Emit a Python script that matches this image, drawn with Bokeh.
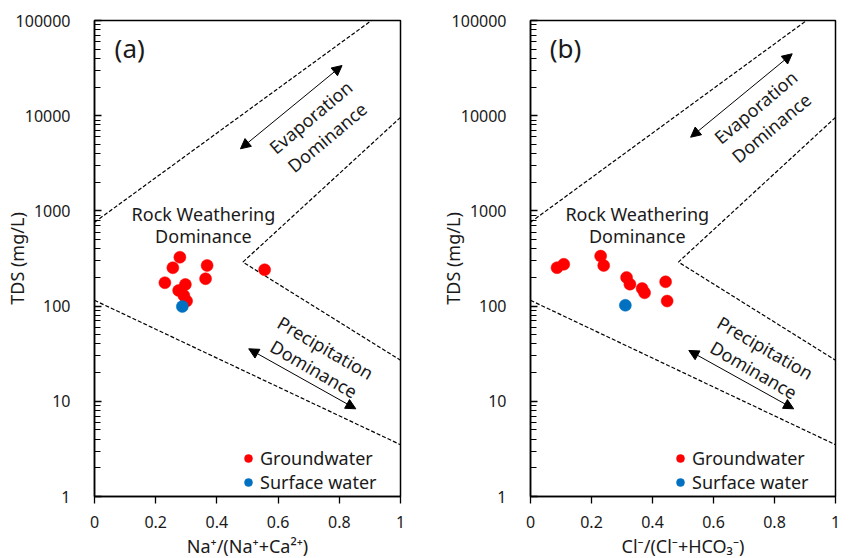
from bokeh.plotting import figure
from bokeh.models import (Range1d, FixedTicker, CustomJSTickFormatter, Label, Arrow,
                          NormalHead, Legend, LegendItem)
from bokeh.layouts import row
from bokeh.embed import file_html
from bokeh.resources import INLINE

FONT = "Noto Sans"
TXT = "#1a1a1a"

# ---------------- data ----------------
# panel (a): Na+/(Na+ + Ca2+) vs TDS
gw_na_ratio = [0.230, 0.256, 0.279, 0.368, 0.363, 0.297, 0.275, 0.292, 0.301, 0.556]
gw_tds_a = [176, 253, 326, 267, 194, 169, 146, 129, 113, 241]
sw_na_ratio = [0.287]
sw_tds_a = [99]

# panel (b): Cl-/(Cl- + HCO3-) vs TDS
gw_cl_ratio = [0.087, 0.109, 0.230, 0.240, 0.315, 0.326, 0.366, 0.374, 0.443, 0.448]
gw_tds_b = [253, 275, 335, 267, 200, 170, 153, 138, 180, 113]
sw_cl_ratio = [0.311]
sw_tds_b = [102]

# Gibbs boundary lines
upper_x = [0.0, 0.905]
upper_y = [760, 100000]
chevron_x = [1.0, 0.485, 1.0]
chevron_y = [9600, 290, 27]
lower_x = [0.0, 1.0]
lower_y = [115, 3.5]

x_ticks = [0, 0.2, 0.4, 0.6, 0.8, 1]
y_ticks = [1, 10, 100, 1000, 10000, 100000]
y_minor = [m * 10 ** k for k in range(0, 5) for m in range(2, 10)]

GW_COLOR = "#FF0000"
SW_COLOR = "#0070C0"


def make_panel(tag, xlabel, gx, gy, sx, sy, border_left, border_right, frame_w,
               evap, precip, evap_txt, precip_txt, rock_x, legend_x):
    p = figure(x_range=Range1d(0, 1), y_range=Range1d(1, 100000), y_axis_type="log",
               frame_width=frame_w, frame_height=476,
               min_border_left=border_left, min_border_right=border_right,
               min_border_top=20, min_border_bottom=61,
               output_backend="svg", toolbar_location=None,
               background_fill_color="white", border_fill_color="white")
    p.grid.visible = False
    p.outline_line_color = "black"
    p.outline_line_width = 1.5
    p.outline_line_alpha = 1.0

    # x axis
    p.xaxis.ticker = FixedTicker(ticks=x_ticks)
    p.xaxis.formatter = CustomJSTickFormatter(code="return String(Math.round(tick*10)/10);")
    p.xaxis.major_tick_out = 7
    p.xaxis.major_tick_in = 0
    p.xaxis.minor_tick_out = 0
    p.xaxis.minor_tick_in = 0
    p.xaxis.major_label_standoff = 12
    p.xaxis.axis_label = xlabel
    p.xaxis.axis_label_standoff = 3
    # y axis
    p.yaxis.ticker = FixedTicker(ticks=y_ticks, minor_ticks=y_minor)
    p.yaxis.formatter = CustomJSTickFormatter(code="return String(Math.round(tick));")
    p.yaxis.major_tick_in = 7
    p.yaxis.major_tick_out = 0
    p.yaxis.minor_tick_in = 6
    p.yaxis.minor_tick_out = 0
    p.yaxis.major_label_standoff = 24
    p.yaxis.axis_label = "TDS (mg/L)"
    p.yaxis.axis_label_standoff = -16
    for ax in (p.xaxis, p.yaxis):
        ax.axis_line_color = "black"
        ax.axis_line_width = 1.5
        ax.major_tick_line_color = "black"
        ax.major_tick_line_width = 1.3
        ax.minor_tick_line_color = "black"
        ax.minor_tick_line_width = 1.0
        ax.major_label_text_font = FONT
        ax.major_label_text_font_size = "16px"
        ax.major_label_text_color = TXT
        ax.axis_label_text_font = FONT
        ax.axis_label_text_font_size = "18px"
        ax.axis_label_text_font_style = "normal"
        ax.axis_label_text_color = TXT

    # boundary lines
    for xs, ys in ((upper_x, upper_y), (chevron_x, chevron_y), (lower_x, lower_y)):
        p.line(xs, ys, line_color="black", line_width=1.2, line_dash="4 2")

    # arrows
    for (x0, y0, x1, y1) in (evap, precip):
        p.add_layout(Arrow(x_start=x0, y_start=y0, x_end=x1, y_end=y1,
                           line_color="black", line_width=1,
                           start=NormalHead(size=10, fill_color="black", line_color="black"),
                           end=NormalHead(size=10, fill_color="black", line_color="black")))

    # points
    r_gw = p.scatter(gx, gy, size=12, fill_color=GW_COLOR, line_color=GW_COLOR, line_width=0.5)
    r_sw = p.scatter(sx, sy, size=12, fill_color=SW_COLOR, line_color=SW_COLOR, line_width=0.5)

    def lab(text, x, y, size="18px", angle=0):
        p.add_layout(Label(x=x, y=y, text=text, text_font=FONT, text_font_size=size,
                           text_color=TXT, text_align="center", text_baseline="middle",
                           angle=angle, angle_units="deg"))

    lab(tag, 0.115, 52000, size="26px")
    lab("Rock Weathering", rock_x, 917)
    lab("Dominance", rock_x, 539)
    (e1x, e1y), (e2x, e2y) = evap_txt
    lab("Evaporation", e1x, e1y, angle=40)
    lab("Dominance", e2x, e2y, angle=40)
    (p1x, p1y), (p2x, p2y) = precip_txt
    lab("Precipitation", p1x, p1y, angle=-30)
    lab("Dominance", p2x, p2y, angle=-30)

    legend = Legend(items=[LegendItem(label="Groundwater", renderers=[r_gw]),
                           LegendItem(label="Surface water", renderers=[r_sw])],
                    location=(legend_x, 2), orientation="vertical",
                    border_line_color=None, background_fill_alpha=0,
                    padding=0, margin=0, spacing=0,
                    glyph_width=20, glyph_height=20, label_height=20,
                    label_standoff=2, label_text_font=FONT,
                    label_text_font_size="18px", label_text_color=TXT)
    p.add_layout(legend)
    return p


pa = make_panel("(a)", "Na\u207a/(Na\u207a+Ca\u00b2\u207a)",
                gw_na_ratio, gw_tds_a, sw_na_ratio, sw_tds_a, 94, 30, 306,
                evap=(0.477, 4490, 0.809, 33660), precip=(0.504, 35.6, 0.854, 8.34),
                evap_txt=((0.706, 9650), (0.760, 5940)),
                precip_txt=((0.755, 36.5), (0.717, 21.9)), rock_x=0.356, legend_x=144)
pb = make_panel("(b)", "Cl\u207b/(Cl\u207b+HCO\u2083\u207b)",
                gw_cl_ratio, gw_tds_b, sw_cl_ratio, sw_tds_b, 100, 20, 305,
                evap=(0.525, 5940, 0.858, 44700), precip=(0.519, 34.2, 0.863, 8.34),
                evap_txt=((0.738, 12280), (0.789, 7460)),
                precip_txt=((0.770, 36.5), (0.732, 21.4)), rock_x=0.350, legend_x=140)

layout = row(pa, pb)
open("out.html", "w").write(file_html(layout, INLINE))
